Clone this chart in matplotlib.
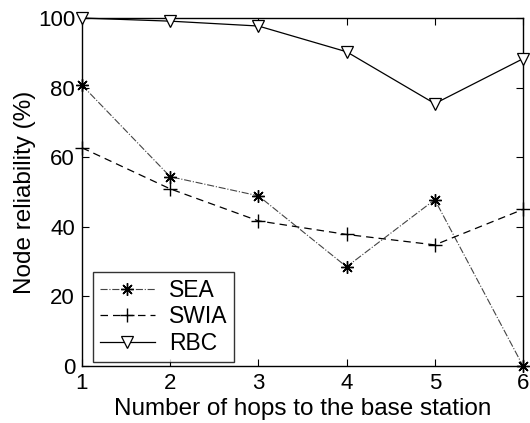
import matplotlib
matplotlib.use("Agg")
import matplotlib.pyplot as plt

plt.rcParams['font.family'] = ['Liberation Sans', 'DejaVu Sans']

hops = [1, 2, 3, 4, 5, 6]
sea = [80.7, 54.4, 48.9, 28.5, 47.8, 0.0]
swia = [62.7, 50.9, 41.7, 37.8, 34.8, 45.0]
rbc = [100.0, 99.1, 97.7, 90.3, 75.4, 88.3]

x_ticks = [1, 2, 3, 4, 5, 6]
y_ticks = [0, 20, 40, 60, 80, 100]

fig = plt.figure(figsize=(5.30, 4.23), dpi=100)
ax = fig.add_axes([0.1547, 0.1348, 0.8321, 0.8226])

ax.plot(hops, sea, color='#444444', linestyle='-.', linewidth=0.8,
        marker=(8, 2, 0), markersize=9, markeredgecolor='black',
        markeredgewidth=1.0, label='SEA', clip_on=False, zorder=3)
ax.plot(hops, swia, color='black', linestyle=(0, (6, 4)), linewidth=0.9,
        marker='+', markersize=10, markeredgewidth=1.0, label='SWIA',
        clip_on=False, zorder=3)
ax.plot(hops, rbc, color='black', linestyle='-', linewidth=0.9,
        marker='v', markersize=9, markerfacecolor='white',
        markeredgecolor='black', markeredgewidth=0.9, label='RBC',
        clip_on=False, zorder=3)

ax.set_xlim(1, 6)
ax.set_ylim(0, 100)
ax.set_xticks(x_ticks)
ax.set_yticks(y_ticks)
ax.tick_params(direction='in', top=True, right=True, length=5, width=0.8,
               labelsize=16, pad=5)
for s in ax.spines.values():
    s.set_linewidth(1.0)

ax.set_xlabel('Number of hops to the base station', fontsize=17.5, labelpad=3)
ax.set_ylabel('Node reliability (%)', fontsize=17.5, labelpad=1.5)

leg = ax.legend(loc='lower left', bbox_to_anchor=(0.025, 0.012), fontsize=16.5,
                frameon=True, fancybox=False, handlelength=2.4,
                borderpad=0.3, labelspacing=0.15, handletextpad=0.6,
                borderaxespad=0)
leg.get_frame().set_edgecolor('black')
leg.get_frame().set_linewidth(1.0)

fig.savefig('out.png', dpi=100)
